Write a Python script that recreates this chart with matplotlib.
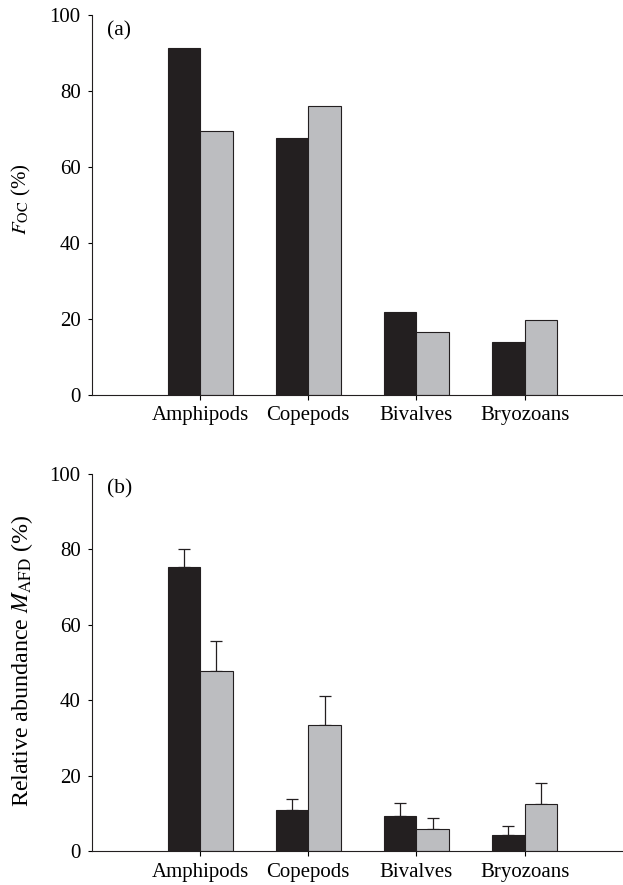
import matplotlib
matplotlib.use('Agg')
import matplotlib.pyplot as plt
import numpy as np

plt.rcParams['font.family'] = 'serif'
plt.rcParams['font.serif'] = ['Liberation Serif', 'DejaVu Serif']
plt.rcParams['mathtext.fontset'] = 'stix'

categories = ['Amphipods', 'Copepods', 'Bivalves', 'Bryozoans']

# panel (a): frequency of occurrence
foc_black = [91.5, 67.7, 21.8, 13.8]
foc_gray = [69.6, 76.2, 16.5, 19.7]

# panel (b): relative abundance with upper error
abund_black = [75.2, 10.9, 9.4, 4.2]
abund_gray = [47.8, 33.5, 5.8, 12.5]
err_black = [4.9, 3.0, 3.3, 2.4]
err_gray = [7.9, 7.6, 3.0, 5.6]

yticks = [0, 20, 40, 60, 80, 100]

c_black = '#231f20'
c_gray = '#bcbdc0'
edge = '#231f20'
fs = 15
w = 0.3

fig = plt.figure(figsize=(6.23, 8.85), dpi=100)
ax1 = fig.add_axes([92/623, 1-394.7/885, 1-92/623, (394.7-15.3)/885])
ax2 = fig.add_axes([92/623, 1-851/885, 1-92/623, (851-474)/885])

x = np.arange(1, len(categories)+1)

def style(ax, label, panel, lab_fs, lab_x, lab_y):
    ax.set_xlim(0, 4.91)
    ax.set_ylim(0, 100)
    ax.set_yticks(yticks)
    ax.set_xticks(x)
    ax.set_xticklabels(categories, fontsize=fs)
    ax.tick_params(axis='y', labelsize=fs, length=4.5*0.72, width=0.8, pad=5)
    ax.tick_params(axis='x', length=4.7*0.72, width=0.8, pad=5)
    for s in ['top', 'right']:
        ax.spines[s].set_visible(False)
    for s in ['left', 'bottom']:
        ax.spines[s].set_linewidth(0.8)
        ax.spines[s].set_color(edge)
    ax.set_ylabel(label, fontsize=lab_fs)
    ax.yaxis.set_label_coords(lab_x, lab_y)
    ax.text(0.028, 0.985, panel, transform=ax.transAxes, fontsize=15.5,
            ha='left', va='top')

ax1.bar(x - w/2, foc_black, w, color=c_black, edgecolor=edge, linewidth=0.8)
ax1.bar(x + w/2, foc_gray, w, color=c_gray, edgecolor=edge, linewidth=0.8)
style(ax1, r'$F_{\mathrm{OC}}$ (%)', '(a)', 15, -0.111, 0.515)

ax2.bar(x - w/2, abund_black, w, color=c_black, edgecolor=edge, linewidth=0.8, zorder=2)
ax2.bar(x + w/2, abund_gray, w, color=c_gray, edgecolor=edge, linewidth=0.8, zorder=2)
ax2.errorbar(x - w/2, abund_black, yerr=[np.zeros(4), err_black], fmt='none',
             ecolor=edge, elinewidth=0.9, capsize=4, capthick=0.9, zorder=1)
ax2.errorbar(x + w/2, abund_gray, yerr=[np.zeros(4), err_gray], fmt='none',
             ecolor=edge, elinewidth=0.9, capsize=4, capthick=0.9, zorder=1)
style(ax2, r'Relative abundance $M_{\mathrm{AFD}}$ (%)', '(b)', 17.3, -0.107, 0.505)

fig.savefig('out.png', dpi=100)
